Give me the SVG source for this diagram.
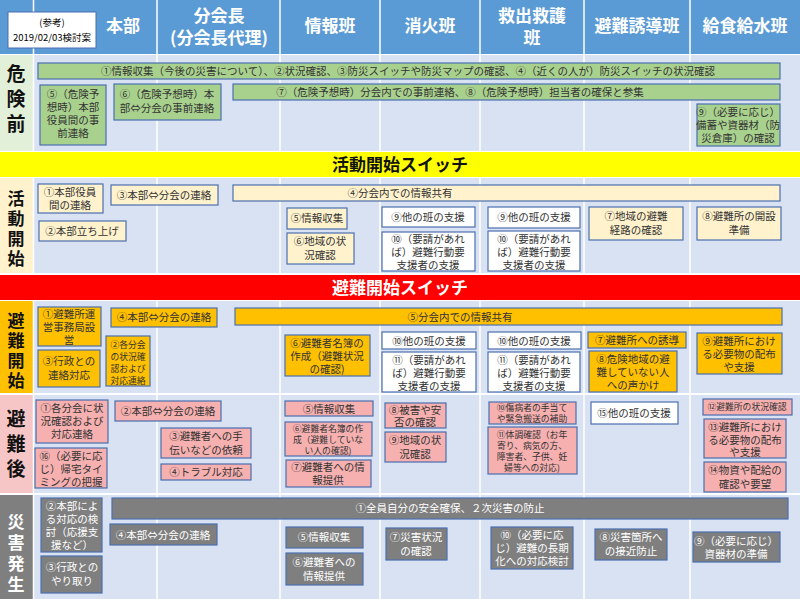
<svg xmlns="http://www.w3.org/2000/svg" width="800" height="599" viewBox="0 0 800 599">
<style>
text{font-family:"Noto Sans CJK JP","Noto Sans",sans-serif;}
.b rect{stroke:#4a6fb0;stroke-width:1.2}
.b text{font-size:10.5px;fill:#333;text-anchor:middle}
.s text{font-size:8.8px}
.g rect{fill:#a9d18e}
.y rect{fill:#fff2cc}
.w rect{fill:#ffffff}
.o rect{fill:#ffc000}
.p rect{fill:#f6b0b0}
.k rect{fill:#7f7f7f}
.k text{fill:#fff}
.hd{font-size:17px;font-weight:bold;fill:#fff;text-anchor:middle}
.lb{font-size:19px;font-weight:bold;text-anchor:middle;fill:#111}
.bar{font-size:17px;font-weight:bold;text-anchor:middle}
</style>
<rect width="800" height="599" fill="#ffffff"/>
<g id="grid">
<rect x="0" y="0" width="800" height="54" fill="#5b9bd5"/>
<rect x="34" y="55" width="766" height="96" fill="#d9e2f3"/>
<rect x="34" y="178" width="766" height="95" fill="#d9e2f3"/>
<rect x="34" y="301" width="766" height="92" fill="#d9e2f3"/>
<rect x="34" y="395" width="766" height="98" fill="#d9e2f3"/>
<rect x="34" y="495" width="766" height="104" fill="#d9e2f3"/>
<rect x="0" y="55" width="33" height="96" fill="#e2f0d9"/>
<rect x="0" y="178" width="33" height="95" fill="#fff2cc"/>
<rect x="0" y="301" width="33" height="92" fill="#ffc000"/>
<rect x="0" y="395" width="33" height="98" fill="#f6c6c6"/>
<rect x="0" y="495" width="33" height="104" fill="#7f7f7f"/>
<g stroke="#ffffff" stroke-width="1.5">
<line x1="33.5" y1="0" x2="33.5" y2="599"/>
<line x1="157" y1="0" x2="157" y2="599"/>
<line x1="280" y1="0" x2="280" y2="599"/>
<line x1="380" y1="0" x2="380" y2="599"/>
<line x1="480" y1="0" x2="480" y2="599"/>
<line x1="584" y1="0" x2="584" y2="599"/>
<line x1="690" y1="0" x2="690" y2="599"/>
</g>
<rect x="0" y="152" width="800" height="25" fill="#ffff00"/>
<rect x="0" y="275" width="800" height="25" fill="#ff0000"/>
</g>
<g id="header">
<rect x="8" y="12" width="88" height="36" fill="#fff" stroke="#4a6fb0"/>
<text x="52" y="26" style="font-size:9.5px;text-anchor:middle">(参考)</text>
<text x="52" y="41" style="font-size:9.5px;text-anchor:middle">2019/02/03検討案</text>
<text class="hd" x="123" y="32">本部</text>
<text class="hd" x="219" y="22">分会長</text>
<text class="hd" x="219" y="44">(分会長代理)</text>
<text class="hd" x="330" y="32">情報班</text>
<text class="hd" x="430" y="32">消火班</text>
<text class="hd" x="532" y="22">救出救護</text>
<text class="hd" x="532" y="44">班</text>
<text class="hd" x="637" y="32">避難誘導班</text>
<text class="hd" x="745" y="32">給食給水班</text>
</g>
<g id="labels">
<text class="lb" x="16" y="81">危</text><text class="lb" x="16" y="106">険</text><text class="lb" x="16" y="131">前</text>
<text class="bar" x="400" y="171" fill="#111">活動開始スイッチ</text>
<text class="lb" x="16" y="205" style="font-size:17px">活</text><text class="lb" x="16" y="225" style="font-size:17px">動</text><text class="lb" x="16" y="245" style="font-size:17px">開</text><text class="lb" x="16" y="265" style="font-size:17px">始</text>
<text class="bar" x="400" y="294" fill="#fff">避難開始スイッチ</text>
<text class="lb" x="16" y="327" style="font-size:17px">避</text><text class="lb" x="16" y="347" style="font-size:17px">難</text><text class="lb" x="16" y="367" style="font-size:17px">開</text><text class="lb" x="16" y="387" style="font-size:17px">始</text>
<text class="lb" x="16" y="426">避</text><text class="lb" x="16" y="451">難</text><text class="lb" x="16" y="476">後</text>
<text class="lb" x="16" y="528" style="font-size:17px;fill:#fff">災</text><text class="lb" x="16" y="549" style="font-size:17px;fill:#fff">害</text><text class="lb" x="16" y="570" style="font-size:17px;fill:#fff">発</text><text class="lb" x="16" y="591" style="font-size:17px;fill:#fff">生</text>
</g>
<g id="connectors"></g>
<!-- 危険前 -->
<g id="n-k1" class="b g"><rect x="38" y="63" width="742" height="16"/><text x="408" y="75">①情報収集（今後の災害について）、②状況確認、③防災スイッチや防災マップの確認、④（近くの人が）防災スイッチの状況確認</text></g>
<g id="n-k5" class="b g"><rect x="40" y="85" width="66" height="60"/><text x="73" y="98">⑤（危険予</text><text x="73" y="111">想時）本部</text><text x="73" y="124">役員間の事</text><text x="73" y="137">前連絡</text></g>
<g id="n-k6" class="b g"><rect x="114" y="84" width="107" height="36"/><text x="167" y="98">⑥（危険予想時）本</text><text x="167" y="112">部⇔分会の事前連絡</text></g>
<g id="n-k7" class="b g"><rect x="233" y="84" width="547" height="16"/><text x="460" y="96">⑦（危険予想時）分会内での事前連絡、⑧（危険予想時）担当者の確保と参集</text></g>
<g id="n-k9" class="b g"><rect x="697" y="104" width="83" height="42"/><text x="738" y="116">⑨（必要に応じ）</text><text x="738" y="129">備蓄や資器材（防</text><text x="738" y="142">災倉庫）の確認</text></g>
<!-- 活動開始 -->
<g id="n-a1" class="b y"><rect x="38" y="184" width="65" height="29"/><text x="70" y="196">①本部役員</text><text x="70" y="209">間の連絡</text></g>
<g id="n-a3" class="b y"><rect x="111" y="185" width="107" height="20"/><text x="164" y="199">③本部⇔分会の連絡</text></g>
<g id="n-a4" class="b y"><rect x="233" y="185" width="547" height="16"/><text x="400" y="197">④分会内での情報共有</text></g>
<g id="n-a2" class="b y"><rect x="39" y="221" width="87" height="20"/><text x="82" y="235">②本部立ち上げ</text></g>
<g id="n-a5" class="b y"><rect x="287" y="208" width="60" height="21"/><text x="317" y="222">⑤情報収集</text></g>
<g id="n-a6" class="b y"><rect x="287" y="233" width="67" height="31"/><text x="320" y="245">⑥地域の状</text><text x="320" y="259">況確認</text></g>
<g id="n-a9s" class="b w"><rect x="382" y="207" width="93" height="20"/><text x="428" y="221">⑨他の班の支援</text></g>
<g id="n-a10s" class="b w"><rect x="382" y="232" width="93" height="39"/><text x="428" y="243">⑩（要請があれ</text><text x="428" y="256">ば）避難行動要</text><text x="428" y="269">支援者の支援</text></g>
<g id="n-a9r" class="b w"><rect x="488" y="207" width="92" height="21"/><text x="534" y="221">⑨他の班の支援</text></g>
<g id="n-a10r" class="b w"><rect x="488" y="231" width="92" height="40"/><text x="534" y="243">⑩（要請があれ</text><text x="534" y="256">ば）避難行動要</text><text x="534" y="269">支援者の支援</text></g>
<g id="n-a7" class="b y"><rect x="589" y="207" width="94" height="33"/><text x="636" y="220">⑦地域の避難</text><text x="636" y="234">経路の確認</text></g>
<g id="n-a8" class="b y"><rect x="697" y="207" width="84" height="33"/><text x="739" y="220">⑧避難所の開設</text><text x="739" y="234">準備</text></g>
<!-- 避難開始 -->
<g id="n-h1" class="b o"><rect x="38" y="307" width="63" height="39"/><text x="69" y="318">①避難所運</text><text x="69" y="331">営事務局設</text><text x="69" y="344">営</text></g>
<g id="n-h4" class="b o"><rect x="111" y="308" width="106" height="19"/><text x="164" y="321">④本部⇔分会の連絡</text></g>
<g id="n-h5" class="b o"><rect x="235" y="308" width="547" height="17"/><text x="460" y="321">⑤分会内での情報共有</text></g>
<g id="n-h3" class="b o"><rect x="38" y="350" width="62" height="37"/><text x="69" y="365">③行政との</text><text x="69" y="379">連絡対応</text></g>
<g id="n-h2" class="b o s"><rect x="106" y="336" width="44" height="50"/><text x="128" y="348">②各分会</text><text x="128" y="360">の状況確</text><text x="128" y="372">認および</text><text x="128" y="384">対応連絡</text></g>
<g id="n-h6" class="b o"><rect x="285" y="335" width="85" height="41"/><text x="327" y="347">⑥避難者名簿の</text><text x="327" y="360">作成（避難状況</text><text x="327" y="373">の確認)</text></g>
<g id="n-h10s" class="b w"><rect x="382" y="332" width="94" height="17"/><text x="429" y="345">⑩他の班の支援</text></g>
<g id="n-h11s" class="b w"><rect x="382" y="352" width="94" height="40"/><text x="429" y="364">⑪（要請があれ</text><text x="429" y="377">ば）避難行動要</text><text x="429" y="390">支援者の支援</text></g>
<g id="n-h10r" class="b w"><rect x="488" y="332" width="93" height="17"/><text x="534" y="345">⑩他の班の支援</text></g>
<g id="n-h11r" class="b w"><rect x="488" y="352" width="92" height="40"/><text x="534" y="364">⑪（要請があれ</text><text x="534" y="377">ば）避難行動要</text><text x="534" y="390">支援者の支援</text></g>
<g id="n-h7" class="b o"><rect x="588" y="332" width="98" height="16"/><text x="637" y="344">⑦避難所への誘導</text></g>
<g id="n-h8" class="b o"><rect x="589" y="351" width="88" height="41"/><text x="633" y="363">⑧危険地域の避</text><text x="633" y="376">難していない人</text><text x="633" y="389">への声かけ</text></g>
<g id="n-h9" class="b o"><rect x="697" y="333" width="85" height="41"/><text x="739" y="345">⑨避難所におけ</text><text x="739" y="358">る必要物の配布</text><text x="739" y="371">や支援</text></g>
<!-- 避難後 -->
<g id="n-g1" class="b p"><rect x="36" y="400" width="72" height="43"/><text x="72" y="412">①各分会に状</text><text x="72" y="425">況確認および</text><text x="72" y="438">対応連絡</text></g>
<g id="n-g2" class="b p"><rect x="115" y="401" width="106" height="20"/><text x="168" y="415">②本部⇔分会の連絡</text></g>
<g id="n-g16" class="b p"><rect x="35" y="448" width="72" height="40"/><text x="71" y="460">⑯（必要に応</text><text x="71" y="473">じ）帰宅タイ</text><text x="71" y="486">ミングの把握</text></g>
<g id="n-g3" class="b p"><rect x="161" y="428" width="90" height="30"/><text x="206" y="440">③避難者への手</text><text x="206" y="454">伝いなどの依頼</text></g>
<g id="n-g4" class="b p"><rect x="161" y="464" width="90" height="16"/><text x="206" y="476">④トラブル対応</text></g>
<g id="n-g5" class="b p"><rect x="285" y="401" width="88" height="15"/><text x="329" y="413">⑤情報収集</text></g>
<g id="n-g6" class="b p s"><rect x="285" y="422" width="87" height="34"/><text x="328" y="432">⑥避難者名簿の作</text><text x="328" y="443">成（避難していな</text><text x="328" y="454">い人の確認)</text></g>
<g id="n-g7" class="b p"><rect x="286" y="460" width="85" height="27"/><text x="328" y="471">⑦避難者への情</text><text x="328" y="484">報提供</text></g>
<g id="n-g8" class="b p"><rect x="385" y="403" width="61" height="25"/><text x="415" y="414">⑧被害や安</text><text x="415" y="426">否の確認</text></g>
<g id="n-g9" class="b p"><rect x="385" y="432" width="61" height="30"/><text x="415" y="444">⑨地域の状</text><text x="415" y="458">況確認</text></g>
<g id="n-g10" class="b p s"><rect x="489" y="402" width="87" height="22"/><text x="532" y="411">⑩傷病者の手当て</text><text x="532" y="422">や緊急搬送の補助</text></g>
<g id="n-g11" class="b p s"><rect x="488" y="427" width="89" height="47"/><text x="532" y="438">⑪体調確認（お年</text><text x="532" y="449">寄り、病気の方、</text><text x="532" y="460">障害者、子供、妊</text><text x="532" y="471">婦等への対応)</text></g>
<g id="n-g15" class="b w"><rect x="591" y="402" width="87" height="22"/><text x="634" y="417">⑮他の班の支援</text></g>
<g id="n-g12" class="b p s"><rect x="703" y="399" width="89" height="16"/><text x="747" y="410">⑫避難所の状況確認</text></g>
<g id="n-g13" class="b p"><rect x="704" y="419" width="82" height="39"/><text x="745" y="431">⑬避難所におけ</text><text x="745" y="444">る必要物の配布</text><text x="745" y="456">や支援</text></g>
<g id="n-g14" class="b p"><rect x="704" y="462" width="82" height="30"/><text x="745" y="474">⑭物資や配給の</text><text x="745" y="488">確認や要望</text></g>
<!-- 災害発生 -->
<g id="n-s1" class="b k"><rect x="112" y="498" width="676" height="21"/><text x="450" y="512">①全員自分の安全確保、２次災害の防止</text></g>
<g id="n-s2" class="b k"><rect x="41" y="498" width="61" height="54"/><text x="72" y="510">②本部によ</text><text x="72" y="523">る対応の検</text><text x="72" y="536">討（応援支</text><text x="72" y="549">援など）</text></g>
<g id="n-s3" class="b k"><rect x="41" y="556" width="61" height="37"/><text x="72" y="571">③行政との</text><text x="72" y="585">やり取り</text></g>
<g id="n-s4" class="b k"><rect x="110" y="524" width="107" height="21"/><text x="163" y="539">④本部⇔分会の連絡</text></g>
<g id="n-s5" class="b k"><rect x="286" y="527" width="77" height="21"/><text x="324" y="541">⑤情報収集</text></g>
<g id="n-s6" class="b k"><rect x="286" y="553" width="77" height="32"/><text x="324" y="566">⑥避難者への</text><text x="324" y="580">情報提供</text></g>
<g id="n-s7" class="b k"><rect x="386" y="528" width="61" height="32"/><text x="416" y="541">⑦災害状況</text><text x="416" y="555">の確認</text></g>
<g id="n-s10" class="b k"><rect x="491" y="527" width="82" height="42"/><text x="532" y="539">⑩（必要に応</text><text x="532" y="552">じ）避難の長期</text><text x="532" y="565">化への対応検討</text></g>
<g id="n-s8" class="b k"><rect x="595" y="529" width="72" height="31"/><text x="631" y="541">⑧災害箇所へ</text><text x="631" y="555">の接近防止</text></g>
<g id="n-s9" class="b k"><rect x="693" y="532" width="87" height="30"/><text x="736" y="545">⑨（必要に応じ）</text><text x="736" y="558">資器材の準備</text></g>
</svg>
